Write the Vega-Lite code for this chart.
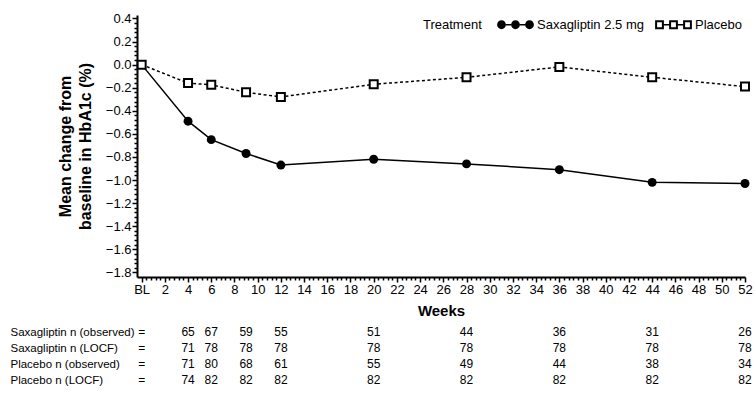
{
  "$schema": "https://vega.github.io/schema/vega-lite/v6.json",
  "background": "white",
  "padding": {"left": 10, "top": 12, "right": 8, "bottom": 0},
  "config": {
    "font": "Liberation Sans",
    "view": {"stroke": null},
    "concat": {"spacing": 6},
    "axis": {"labelColor": "black", "titleColor": "black", "domainColor": "black", "tickColor": "black", "grid": false}
  },
  "datasets": {
    "curves": [
      {"treatment": "Saxagliptin 2.5 mg", "week": 0, "change": 0},
      {"treatment": "Saxagliptin 2.5 mg", "week": 4, "change": -0.49},
      {"treatment": "Saxagliptin 2.5 mg", "week": 6, "change": -0.65},
      {"treatment": "Saxagliptin 2.5 mg", "week": 9, "change": -0.77},
      {"treatment": "Saxagliptin 2.5 mg", "week": 12, "change": -0.87},
      {"treatment": "Saxagliptin 2.5 mg", "week": 20, "change": -0.82},
      {"treatment": "Saxagliptin 2.5 mg", "week": 28, "change": -0.86},
      {"treatment": "Saxagliptin 2.5 mg", "week": 36, "change": -0.91},
      {"treatment": "Saxagliptin 2.5 mg", "week": 44, "change": -1.02},
      {"treatment": "Saxagliptin 2.5 mg", "week": 52, "change": -1.03},
      {"treatment": "Placebo", "week": 0, "change": 0},
      {"treatment": "Placebo", "week": 4, "change": -0.16},
      {"treatment": "Placebo", "week": 6, "change": -0.175},
      {"treatment": "Placebo", "week": 9, "change": -0.24},
      {"treatment": "Placebo", "week": 12, "change": -0.28},
      {"treatment": "Placebo", "week": 20, "change": -0.17},
      {"treatment": "Placebo", "week": 28, "change": -0.11},
      {"treatment": "Placebo", "week": 36, "change": -0.02},
      {"treatment": "Placebo", "week": 44, "change": -0.11},
      {"treatment": "Placebo", "week": 52, "change": -0.19}
    ],
    "counts": [
      {"row": "Saxagliptin n (observed)", "week": 4, "n": 65},
      {"row": "Saxagliptin n (observed)", "week": 6, "n": 67},
      {"row": "Saxagliptin n (observed)", "week": 9, "n": 59},
      {"row": "Saxagliptin n (observed)", "week": 12, "n": 55},
      {"row": "Saxagliptin n (observed)", "week": 20, "n": 51},
      {"row": "Saxagliptin n (observed)", "week": 28, "n": 44},
      {"row": "Saxagliptin n (observed)", "week": 36, "n": 36},
      {"row": "Saxagliptin n (observed)", "week": 44, "n": 31},
      {"row": "Saxagliptin n (observed)", "week": 52, "n": 26},
      {"row": "Saxagliptin n (LOCF)", "week": 4, "n": 71},
      {"row": "Saxagliptin n (LOCF)", "week": 6, "n": 78},
      {"row": "Saxagliptin n (LOCF)", "week": 9, "n": 78},
      {"row": "Saxagliptin n (LOCF)", "week": 12, "n": 78},
      {"row": "Saxagliptin n (LOCF)", "week": 20, "n": 78},
      {"row": "Saxagliptin n (LOCF)", "week": 28, "n": 78},
      {"row": "Saxagliptin n (LOCF)", "week": 36, "n": 78},
      {"row": "Saxagliptin n (LOCF)", "week": 44, "n": 78},
      {"row": "Saxagliptin n (LOCF)", "week": 52, "n": 78},
      {"row": "Placebo n (observed)", "week": 4, "n": 71},
      {"row": "Placebo n (observed)", "week": 6, "n": 80},
      {"row": "Placebo n (observed)", "week": 9, "n": 68},
      {"row": "Placebo n (observed)", "week": 12, "n": 61},
      {"row": "Placebo n (observed)", "week": 20, "n": 55},
      {"row": "Placebo n (observed)", "week": 28, "n": 49},
      {"row": "Placebo n (observed)", "week": 36, "n": 44},
      {"row": "Placebo n (observed)", "week": 44, "n": 38},
      {"row": "Placebo n (observed)", "week": 52, "n": 34},
      {"row": "Placebo n (LOCF)", "week": 4, "n": 74},
      {"row": "Placebo n (LOCF)", "week": 6, "n": 82},
      {"row": "Placebo n (LOCF)", "week": 9, "n": 82},
      {"row": "Placebo n (LOCF)", "week": 12, "n": 82},
      {"row": "Placebo n (LOCF)", "week": 20, "n": 82},
      {"row": "Placebo n (LOCF)", "week": 28, "n": 82},
      {"row": "Placebo n (LOCF)", "week": 36, "n": 82},
      {"row": "Placebo n (LOCF)", "week": 44, "n": 82},
      {"row": "Placebo n (LOCF)", "week": 52, "n": 82}
    ]
  },
  "vconcat": [
    {
      "width": 608,
      "height": 262,
      "data": {"name": "curves"},
      "encoding": {
        "x": {
          "field": "week", "type": "quantitative",
          "scale": {"domain": [-0.4, 52], "nice": false, "zero": false},
          "axis": {
            "title": "Weeks", "titleFontSize": 15, "titleFontWeight": "bold", "titlePadding": 7,
            "values": [0,0.4,0.8,1.2,1.6,2,2.4,2.8,3.2,3.6,4,4.4,4.8,5.2,5.6,6,6.4,6.8,7.2,7.6,8,8.4,8.8,9.2,9.6,10,10.4,10.8,11.2,11.6,12,12.4,12.8,13.2,13.6,14,14.4,14.8,15.2,15.6,16,16.4,16.8,17.2,17.6,18,18.4,18.8,19.2,19.6,20,20.4,20.8,21.2,21.6,22,22.4,22.8,23.2,23.6,24,24.4,24.8,25.2,25.6,26,26.4,26.8,27.2,27.6,28,28.4,28.8,29.2,29.6,30,30.4,30.8,31.2,31.6,32,32.4,32.8,33.2,33.6,34,34.4,34.8,35.2,35.6,36,36.4,36.8,37.2,37.6,38,38.4,38.8,39.2,39.6,40,40.4,40.8,41.2,41.6,42,42.4,42.8,43.2,43.6,44,44.4,44.8,45.2,45.6,46,46.4,46.8,47.2,47.6,48,48.4,48.8,49.2,49.6,50,50.4,50.8,51.2,51.6,52],
            "labelExpr": "abs(datum.value / 2 - round(datum.value / 2)) < 0.01 ? (datum.value < 0.1 ? 'BL' : '' + round(datum.value)) : ''",
            "labelFontSize": 13, "labelPadding": 1, "labelOverlap": false, "labelBound": false, "labelFlush": false,
            "tickSize": {"condition": {"test": "abs(datum.value / 2 - round(datum.value / 2)) < 0.01", "value": 5}, "value": 3},
            "tickWidth": 1.5, "domainWidth": 2
          }
        },
        "y": {
          "field": "change", "type": "quantitative",
          "scale": {"domain": [-1.84, 0.43], "nice": false, "zero": false},
          "axis": {
            "title": ["Mean change from", "baseline in HbA1c (%)"], "titleFontSize": 16, "titleFontWeight": "bold", "titleLineHeight": 20, "titlePadding": 12,
            "values": [0.4,0.36,0.32,0.28,0.24,0.2,0.16,0.12,0.08,0.04,0,-0.04,-0.08,-0.12,-0.16,-0.2,-0.24,-0.28,-0.32,-0.36,-0.4,-0.44,-0.48,-0.52,-0.56,-0.6,-0.64,-0.68,-0.72,-0.76,-0.8,-0.84,-0.88,-0.92,-0.96,-1,-1.04,-1.08,-1.12,-1.16,-1.2,-1.24,-1.28,-1.32,-1.36,-1.4,-1.44,-1.48,-1.52,-1.56,-1.6,-1.64,-1.68,-1.72,-1.76,-1.8],
            "labelExpr": "abs(datum.value * 5 - round(datum.value * 5)) < 0.01 ? replace(format(datum.value, '.1f'), '-', '\u2212') : ''",
            "labelFontSize": 13, "labelPadding": 1, "labelOverlap": false, "labelBound": false, "labelFlush": false,
            "tickSize": {"condition": {"test": "abs(datum.value * 5 - round(datum.value * 5)) < 0.01", "value": 5}, "value": 3},
            "tickWidth": 1.5, "domainWidth": 2
          }
        }
      },
      "layer": [
        {
          "transform": [{"filter": "datum.treatment === 'Saxagliptin 2.5 mg'"}],
          "mark": {"type": "line", "color": "black", "strokeWidth": 1.5},
          "encoding": {}
        },
        {
          "transform": [{"filter": "datum.treatment === 'Placebo'"}],
          "mark": {"type": "line", "color": "black", "strokeWidth": 1.5, "strokeDash": [3, 2.5]},
          "encoding": {}
        },
        {
          "transform": [{"filter": "datum.treatment === 'Saxagliptin 2.5 mg'"}],
          "mark": {"type": "point", "shape": "circle", "filled": true, "color": "black", "size": 80, "opacity": 1}
        },
        {
          "transform": [{"filter": "datum.treatment === 'Placebo'"}],
          "mark": {"type": "point", "shape": "square", "filled": true, "fill": "white", "stroke": "black", "strokeWidth": 2, "size": 64, "opacity": 1}
        },
        {
          "transform": [{"filter": "datum.week > 100"}],
          "mark": {"type": "point", "filled": true, "color": "black", "opacity": 1},
          "encoding": {
            "shape": {
              "field": "treatment", "type": "nominal",
              "scale": {
                "domain": ["Saxagliptin 2.5 mg", "Placebo"],
                "range": [
                  "M-4.6,0A1.1,1.1,0,1,0,-2.4,0A1.1,1.1,0,1,0,-4.6,0Z M-1.1,0A1.1,1.1,0,1,0,1.1,0A1.1,1.1,0,1,0,-1.1,0Z M2.4,0A1.1,1.1,0,1,0,4.6,0A1.1,1.1,0,1,0,2.4,0Z M-2.4,-0.2L-1.1,-0.2L-1.1,0.2L-2.4,0.2Z M1.1,-0.2L2.4,-0.2L2.4,0.2L1.1,0.2Z",
                  "M-4.6,-1.1L-2.4,-1.1L-2.4,1.1L-4.6,1.1Z M-4.1,-0.6L-4.1,0.6L-2.9,0.6L-2.9,-0.6Z M-1.1,-1.1L1.1,-1.1L1.1,1.1L-1.1,1.1Z M-0.6,-0.6L-0.6,0.6L0.6,0.6L0.6,-0.6Z M2.4,-1.1L4.6,-1.1L4.6,1.1L2.4,1.1Z M2.9,-0.6L2.9,0.6L4.1,0.6L4.1,-0.6Z M-2.4,-0.2L-1.1,-0.2L-1.1,0.2L-2.4,0.2Z M1.1,-0.2L2.4,-0.2L2.4,0.2L1.1,0.2Z"
                ]
              },
              "legend": {
                "title": "Treatment", "orient": "none", "legendX": 286, "legendY": 3,
                "direction": "horizontal", "titleOrient": "left", "titleFontWeight": "normal", "titleFontSize": 13, "titleColor": "black",
                "titlePadding": 13, "labelFontSize": 13, "labelColor": "black", "symbolSize": 64, "symbolOffset": 14, "labelOffset": 15,
                "columnPadding": 9, "padding": 0, "labelLimit": 0,
                "symbolFillColor": "black", "symbolStrokeColor": "black", "symbolStrokeWidth": 0, "symbolOpacity": 1
              }
            }
          }
        }
      ]
    },
    {
      "width": 608,
      "height": 64,
      "data": {"name": "counts"},
      "encoding": {
        "y": {
          "field": "row", "type": "nominal",
          "sort": ["Saxagliptin n (observed)", "Saxagliptin n (LOCF)", "Placebo n (observed)", "Placebo n (LOCF)"],
          "axis": {"title": null, "domain": false, "ticks": false, "labelAlign": "left", "labelPadding": 127, "labelFontSize": 11.5, "labelColor": "black", "labelLimit": 0}
        }
      },
      "layer": [
        {
          "mark": {"type": "text", "fontSize": 12, "color": "black"},
          "encoding": {
            "x": {"field": "week", "type": "quantitative", "scale": {"domain": [-0.4, 52], "nice": false, "zero": false}, "axis": null},
            "text": {"field": "n", "type": "quantitative"}
          }
        },
        {
          "transform": [{"filter": "datum.week === 4"}],
          "mark": {"type": "text", "text": "=", "fontSize": 12, "color": "black"},
          "encoding": {"x": {"datum": 0, "type": "quantitative"}}
        }
      ]
    }
  ],
  "resolve": {"scale": {"x": "independent", "shape": "independent"}, "legend": {"shape": "independent"}}
}
